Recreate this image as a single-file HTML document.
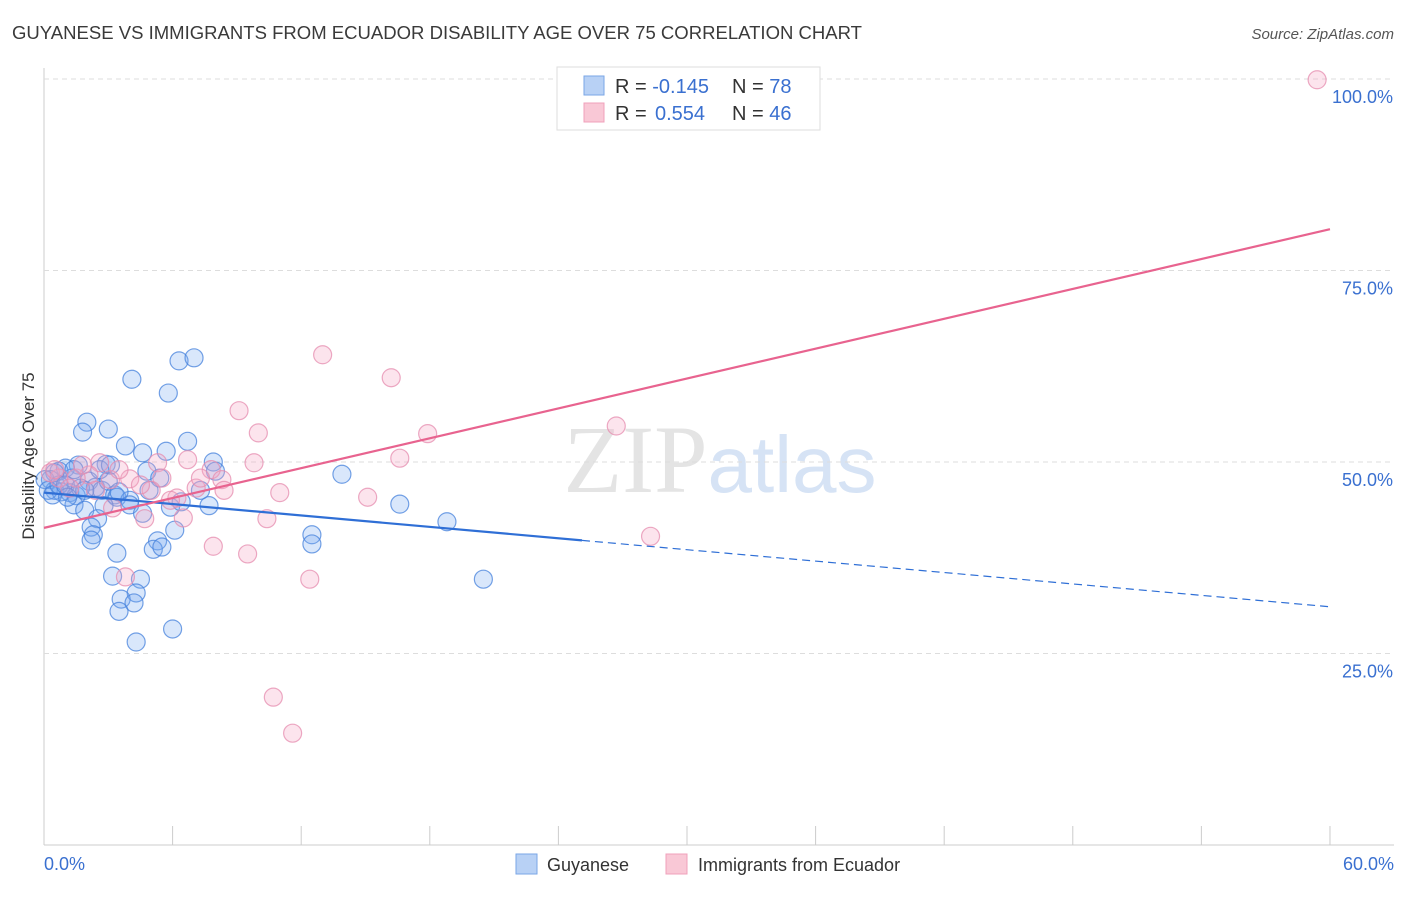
<!DOCTYPE html>
<html><head><meta charset="utf-8"><style>
body{margin:0;background:#fff;font-family:"Liberation Sans",sans-serif;}
svg text{font-family:"Liberation Sans",sans-serif;}
</style></head><body>
<svg id="chart" width="1406" height="892" viewBox="0 0 1406 892">
<text x="12" y="39" font-size="18" fill="#3a3a3a" textLength="850" lengthAdjust="spacingAndGlyphs">GUYANESE VS IMMIGRANTS FROM ECUADOR DISABILITY AGE OVER 75 CORRELATION CHART</text>
<text x="1394" y="39" font-size="15" fill="#555" text-anchor="end" font-style="italic">Source: ZipAtlas.com</text>
<text x="720" y="492" font-size="96" text-anchor="middle" fill="#e4e4e4" font-family="Liberation Serif" style="font-family:'Liberation Serif',serif">ZIP<tspan fill="#d6e3f5" font-family="Liberation Sans" style="font-family:'Liberation Sans',sans-serif" font-size="80">atlas</tspan></text>
<text transform="translate(34,456) rotate(-90)" font-size="17" fill="#333" text-anchor="middle">Disability Age Over 75</text>
<g id="grid"></g><g id="marks"></g><g id="lines"></g>
<g>
<rect x="557" y="67" width="263" height="63" fill="#fff" stroke="#ddd"/>
<rect x="584" y="76" width="20" height="19" fill="#b8d1f5" stroke="#7aa6e6"/>
<rect x="584" y="103" width="20" height="19" fill="#f9c8d6" stroke="#f0a0bb"/>
<text x="615" y="93" font-size="20" fill="#333">R = <tspan fill="#3a70d0">-0.145</tspan><tspan x="732">N = </tspan><tspan fill="#3a70d0">78</tspan></text>
<text x="615" y="120" font-size="20" fill="#333">R = <tspan fill="#3a70d0" x="655">0.554</tspan><tspan x="732">N = </tspan><tspan fill="#3a70d0">46</tspan></text>
</g>
<g>
<rect x="516" y="854" width="21" height="20" fill="#b8d1f5" stroke="#7aa6e6"/>
<text x="547" y="871" font-size="18" fill="#333">Guyanese</text>
<rect x="666" y="854" width="21" height="20" fill="#f9c8d6" stroke="#f0a0bb"/>
<text x="698" y="871" font-size="18" fill="#333">Immigrants from Ecuador</text>
</g>
</svg>
<script>
const yTicks=[25,50,75,100];
const yTickLabels=["25.0%","50.0%","75.0%","100.0%"];
const xTicks=[0,6,12,18,24,30,36,42,48,54,60];
const blueX=[4.1,6.3,7.0,5.8,2.0,1.8,3.0,3.8,4.6,6.7,5.7,7.9,8.0,4.8,2.9,1.6,1.0,0.7,0.5,0.3,0.5,0.8,1.2,1.5,1.3,2.1,2.4,2.7,3.0,3.3,3.4,4.0,2.8,1.4,1.9,2.5,2.2,2.3,2.2,3.4,5.3,5.1,5.5,3.2,4.5,4.3,3.6,4.2,3.5,4.3,6.0,6.1,5.9,6.4,7.7,5.4,13.9,16.6,18.8,12.5,12.5,20.5,0.05,0.2,0.4,0.7,1.0,1.7,2.6,3.5,4.0,4.6,1.9,1.1,4.9,7.3,3.1,1.4];
const blueY=[60.8,63.2,63.6,59.0,55.2,53.9,54.3,52.1,51.2,52.7,51.4,50.0,48.8,48.8,49.7,49.6,49.2,48.8,48.6,47.7,46.3,46.1,46.0,45.6,47.9,47.5,46.7,46.3,47.5,45.7,45.4,45.0,44.3,44.4,43.7,42.6,41.5,40.5,39.8,38.1,39.7,38.6,38.9,35.1,34.7,32.9,32.1,31.6,30.5,26.5,28.2,41.1,44.1,44.8,44.3,47.9,48.4,44.5,42.2,40.5,39.3,34.7,47.7,46.3,45.7,47.0,47.0,46.6,49.0,46.1,44.4,43.3,46.3,45.4,46.3,46.3,49.6,49.0];
const pinkX=[59.4,13.0,16.2,9.1,10.0,17.9,26.7,16.6,9.8,6.7,5.3,2.6,4.0,5.5,7.8,8.3,8.4,7.1,6.2,5.0,2.1,1.5,11.0,15.1,6.5,4.7,3.2,10.4,7.9,9.5,28.3,3.8,12.4,10.7,11.6,0.3,0.7,1.2,3.1,2.4,5.9,7.3,4.5,0.5,1.8,3.5];
const pinkY=[99.9,64.0,61.0,56.7,53.8,53.7,54.7,50.5,49.9,50.3,49.9,49.9,47.8,47.9,49.0,47.7,46.3,46.6,45.3,46.3,48.3,47.9,46.0,45.4,42.7,42.6,44.0,42.6,39.0,38.0,40.3,35.0,34.7,19.3,14.6,48.6,47.9,46.6,47.7,46.3,45.0,47.9,47.0,49.0,49.6,49.0];
const blueTrend=[46.0,31.1]; const blueSolidEnd=25.1;
const pinkTrend=[41.4,80.4];
const X=v=>44+v*21.433, Y=v=>845-v*7.66;
const NS="http://www.w3.org/2000/svg";
function mk(t,a,p){const e=document.createElementNS(NS,t);for(const k in a)e.setAttribute(k,a[k]);p.appendChild(e);return e;}
const g=document.getElementById('grid');
const ax=mk('line',{x1:44,y1:68,x2:44,y2:845,stroke:'#ccc'},g);


const bx=mk('line',{x1:44,y1:845,x2:1394,y2:845,stroke:'#ccc'},g);


yTicks.forEach((t,i)=>{
 const l=mk('line',{x1:44,x2:1394,y1:Y(t),y2:Y(t),stroke:'#ddd','stroke-dasharray':'5,4'},g);
 
 
 const tx=mk('text',{x:1393,y:Y(t)+24,'font-size':18,fill:'#3a70d0','text-anchor':'end'},g);
 tx.textContent=yTickLabels[i];
 
 
});
xTicks.forEach(t=>{
 const l=mk('line',{x1:X(t),x2:X(t),y1:826,y2:845,stroke:'#ccc'},g);
 
 
});
const x0=mk('text',{x:44,y:870,'font-size':18,fill:'#3a70d0'},g);x0.textContent='0.0%';


const x1=mk('text',{x:1394,y:870,'font-size':18,fill:'#3a70d0','text-anchor':'end'},g);x1.textContent='60.0%';


const m=document.getElementById('marks');
blueX.forEach((v,i)=>{const c=mk('circle',{cx:X(v),cy:Y(blueY[i]),r:9,fill:'rgba(120,170,240,0.28)',stroke:'rgba(70,130,220,0.75)','stroke-width':1.2},m);
 
 });
pinkX.forEach((v,i)=>{const c=mk('circle',{cx:X(v),cy:Y(pinkY[i]),r:9,fill:'rgba(245,165,195,0.3)',stroke:'rgba(230,140,175,0.75)','stroke-width':1.2},m);
 
 });
const L=document.getElementById('lines');
const by=x=>blueTrend[0]+(blueTrend[1]-blueTrend[0])*x/60;
const b1=mk('line',{x1:X(0),y1:Y(by(0)),x2:X(blueSolidEnd),y2:Y(by(blueSolidEnd)),stroke:'#2f6fd6','stroke-width':2.2},L);


const b2=mk('line',{x1:X(blueSolidEnd),y1:Y(by(blueSolidEnd)),x2:X(60),y2:Y(by(60)),stroke:'#2f6fd6','stroke-width':1.2,'stroke-dasharray':'8,5'},L);


const p1=mk('line',{x1:X(0),y1:Y(pinkTrend[0]),x2:X(60),y2:Y(pinkTrend[1]),stroke:'#e8638f','stroke-width':2.2},L);


</script>
</body></html>
